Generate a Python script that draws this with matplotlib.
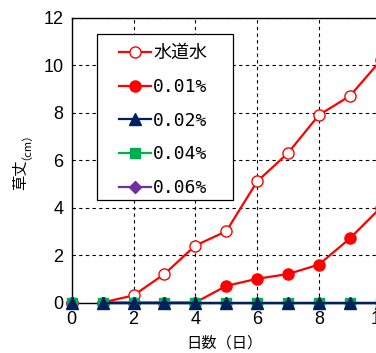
import matplotlib
matplotlib.use("Agg")
import matplotlib.pyplot as plt
from matplotlib.lines import Line2D
from matplotlib.patches import Rectangle

# plant height (cm) by day for each treatment
days = [0, 1, 2, 3, 4, 5, 6, 7, 8, 9, 10]
tap_water = [0, 0, 0.3, 1.2, 2.4, 3.0, 5.1, 6.3, 7.9, 8.7, 10.2]
c001 = [0, 0, 0, 0, 0, 0.7, 1.0, 1.2, 1.6, 2.7, 4.0]
c002 = [0, 0, 0, 0, 0, 0, 0, 0, 0, 0, 0]
c004 = [0, 0, 0, 0, 0, 0, 0, 0, 0, 0, 0]
c006 = [0, 0, 0, 0, 0, 0, 0, 0, 0, 0, 0]
labels = ["水道水", "0.01%", "0.02%", "0.04%", "0.06%"]

JP = ["Noto Sans CJK JP", "DejaVu Sans"]
MONO = ["DejaVu Sans Mono", "Noto Sans CJK JP"]
NUM = ["Liberation Sans Narrow", "Liberation Sans"]

fig = plt.figure(figsize=(3.76, 3.53), dpi=100)
ax = fig.add_axes([0.1907, 0.143, 0.822, 0.807])

series = [
    (tap_water, "#FF0000", "o", "white", 8, 5),
    (c001, "#FF0000", "o", "#FF0000", 8, 6),
    (c002, "#002060", "^", "#002060", 9, 9),
    (c004, "#00B050", "s", "#00B050", 7, 8),
    (c006, "#7030A0", "D", "#7030A0", 6, 7),
]

handles = []
for (vals, color, mk, mfc, ms, z), lab in zip(series, labels):
    # line starts at day 1; day 0 gets a marker only
    ax.plot(days[1:], vals[1:], color=color, lw=1.6, marker=mk, ms=ms,
            mfc=mfc, mec=color, mew=1.0, zorder=z, clip_on=False)
    ax.plot(days[:1], vals[:1], ls="none", marker=mk, ms=ms,
            mfc=mfc, mec=color, mew=1.0, zorder=z, clip_on=False)
    handles.append(Line2D([], [], color=color, lw=1.6, marker=mk, ms=ms,
                          mfc=mfc, mec=color, mew=1.0, label=lab))

ax.set_xlim(0, 10)
ax.set_ylim(0, 12)
ax.set_xticks(range(0, 11, 2))
ax.set_yticks(range(0, 13, 2))
ax.grid(True, color="black", ls=(0, (3, 3)), lw=0.8)
ax.set_axisbelow(True)
ax.tick_params(length=0, pad=6)
for t in ax.get_xticklabels() + ax.get_yticklabels():
    t.set_family(NUM)
    t.set_fontsize(13)
for s in ax.spines.values():
    s.set_linewidth(1.0)
    s.set_color("black")

fig.text(0.598, 0.028, "日数（日）", family=JP, fontsize=11, ha="center", va="center")
fig.text(0.055, 0.547, "草丈", family=JP, fontsize=11, rotation=90,
         ha="center", va="top")
fig.text(0.055, 0.547, "（cm）", family=JP, fontsize=8, rotation=90,
         ha="center", va="bottom")

# legend box drawn by hand so the side padding can differ from the top
ax.add_patch(Rectangle((0.082, 0.36), 0.44, 0.582, transform=ax.transAxes,
                       facecolor="white", edgecolor="black", lw=0.9,
                       zorder=19, clip_on=False))
leg = ax.legend(handles=handles, loc="upper left", bbox_to_anchor=(0.153, 0.907),
                frameon=False, handlelength=1.8, handletextpad=0.1,
                labelspacing=0.87, borderpad=0, borderaxespad=0,
                prop={"family": JP, "size": 13})
leg.set_zorder(20)
for t in leg.get_texts()[1:]:
    t.set_family(MONO)
    t.set_fontsize(13)

fig.savefig("out.png", dpi=100)
